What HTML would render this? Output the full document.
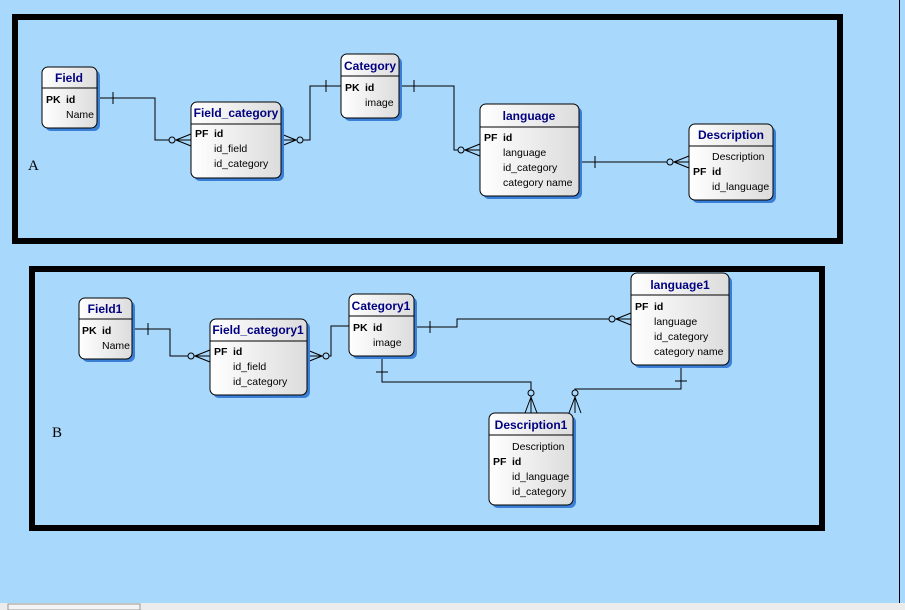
<!DOCTYPE html>
<html><head><meta charset="utf-8"><style>
html,body{margin:0;padding:0;background:#a8d8fc;}
svg{display:block;}
text{font-family:"Liberation Sans",Arial,sans-serif;font-size:10.5px;fill:#000;}
.t{font-size:12px;font-weight:bold;fill:#000080;text-anchor:middle;}
.k{font-weight:bold;}
</style></head><body>
<svg width="905" height="610" viewBox="0 0 905 610" xmlns="http://www.w3.org/2000/svg">
<defs>
<linearGradient id="g" x1="0" y1="0" x2="1" y2="0"><stop offset="0" stop-color="#ffffff"/><stop offset="1" stop-color="#dcdcdc"/></linearGradient>
</defs>
<rect width="905" height="610" fill="#a8d8fc"/>
<line x1="899.5" y1="0" x2="899.5" y2="603" stroke="#000" stroke-width="1"/>
<rect x="0" y="603" width="905" height="7" fill="#ececec"/>
<rect x="8" y="604" width="132" height="6" fill="#f4f4f4" stroke="#999" stroke-width="1"/>
<rect x="15" y="17" width="825" height="224" fill="none" stroke="#000" stroke-width="6"/>
<rect x="32" y="269" width="790" height="259" fill="none" stroke="#000" stroke-width="6"/>
<text x="28" y="170" style="font-family:'Liberation Serif',serif;font-size:15px">A</text>
<text x="52" y="437" style="font-family:'Liberation Serif',serif;font-size:15px">B</text>

<g fill="none" stroke="#000" stroke-width="1">
<polyline points="97,98 155,98 155,140 191,140"/>
<line x1="113" y1="92" x2="113" y2="104"/>
<circle cx="172" cy="140" r="3" fill="#a8d8fc"/>
<polyline points="176,140 191,134"/><polyline points="176,140 191,146"/>

<polyline points="281,140 310,140 310,86 341,86"/>
<polyline points="296,140 281,134"/><polyline points="296,140 281,146"/>
<circle cx="300" cy="140" r="3" fill="#a8d8fc"/>
<line x1="326" y1="80" x2="326" y2="92"/>

<polyline points="399,86 454,86 454,150 480,150"/>
<line x1="414" y1="80" x2="414" y2="92"/>
<circle cx="461" cy="150" r="3" fill="#a8d8fc"/>
<polyline points="465,150 480,144"/><polyline points="465,150 480,156"/>

<line x1="579" y1="162" x2="689" y2="162"/>
<line x1="595" y1="156" x2="595" y2="168"/>
<circle cx="670" cy="162" r="3" fill="#a8d8fc"/>
<polyline points="674,162 689,156"/><polyline points="674,162 689,168"/>

<polyline points="132,329 170,329 170,356 210,356"/>
<line x1="148" y1="323" x2="148" y2="335"/>
<circle cx="191" cy="356" r="3" fill="#a8d8fc"/>
<polyline points="195,356 210,350"/><polyline points="195,356 210,362"/>

<polyline points="307,356 331,356 331,326 349,326"/>
<polyline points="322,356 307,350"/><polyline points="322,356 307,362"/>
<circle cx="326" cy="356" r="3" fill="#a8d8fc"/>

<polyline points="414,327 457,327 457,319 631,319"/>
<line x1="430" y1="321" x2="430" y2="333"/>
<circle cx="612" cy="319" r="3" fill="#a8d8fc"/>
<polyline points="616,319 631,313"/><polyline points="616,319 631,325"/>

<polyline points="382,356 382,382 531,382 531,413"/>
<line x1="376" y1="372" x2="388" y2="372"/>
<circle cx="531" cy="393" r="3" fill="#a8d8fc"/>
<polyline points="531,397 525,413"/><polyline points="531,397 537,413"/>

<polyline points="681,365 681,389 575,389 575,413"/>
<line x1="675" y1="381" x2="687" y2="381"/>
<circle cx="575" cy="393" r="3" fill="#a8d8fc"/>
<polyline points="575,397 569,413"/><polyline points="575,397 581,413"/>
</g>

<g stroke="#000" stroke-width="1">
<rect x="45" y="70" width="55" height="61" rx="6" fill="#3a7fd5" stroke="none"/>
<rect x="42" y="67" width="55" height="61" rx="6" fill="url(#g)"/>
<line x1="42" y1="88" x2="97" y2="88"/>

<rect x="194" y="105" width="90" height="76" rx="6" fill="#3a7fd5" stroke="none"/>
<rect x="191" y="102" width="90" height="76" rx="6" fill="url(#g)"/>
<line x1="191" y1="124" x2="281" y2="124"/>

<rect x="344" y="57" width="58" height="64" rx="6" fill="#3a7fd5" stroke="none"/>
<rect x="341" y="54" width="58" height="64" rx="6" fill="url(#g)"/>
<line x1="341" y1="76" x2="399" y2="76"/>

<rect x="483" y="107" width="99" height="92" rx="6" fill="#3a7fd5" stroke="none"/>
<rect x="480" y="104" width="99" height="92" rx="6" fill="url(#g)"/>
<line x1="480" y1="127" x2="579" y2="127"/>

<rect x="692" y="127" width="84" height="76" rx="6" fill="#3a7fd5" stroke="none"/>
<rect x="689" y="124" width="84" height="76" rx="6" fill="url(#g)"/>
<line x1="689" y1="146" x2="773" y2="146"/>

<rect x="82" y="301" width="53" height="61" rx="6" fill="#3a7fd5" stroke="none"/>
<rect x="79" y="298" width="53" height="61" rx="6" fill="url(#g)"/>
<line x1="79" y1="319" x2="132" y2="319"/>

<rect x="213" y="322" width="97" height="76" rx="6" fill="#3a7fd5" stroke="none"/>
<rect x="210" y="319" width="97" height="76" rx="6" fill="url(#g)"/>
<line x1="210" y1="341" x2="307" y2="341"/>

<rect x="352" y="297" width="65" height="62" rx="6" fill="#3a7fd5" stroke="none"/>
<rect x="349" y="294" width="65" height="62" rx="6" fill="url(#g)"/>
<line x1="349" y1="316" x2="414" y2="316"/>

<rect x="634" y="276" width="98" height="92" rx="6" fill="#3a7fd5" stroke="none"/>
<rect x="631" y="273" width="98" height="92" rx="6" fill="url(#g)"/>
<line x1="631" y1="295" x2="729" y2="295"/>

<rect x="492" y="416" width="84" height="92" rx="6" fill="#3a7fd5" stroke="none"/>
<rect x="489" y="413" width="84" height="92" rx="6" fill="url(#g)"/>
<line x1="489" y1="435" x2="573" y2="435"/>
</g>

<text class="t" x="69" y="82">Field</text>
<text class="k" x="46" y="103">PK</text><text class="k" x="66" y="103">id</text>
<text x="66" y="118">Name</text>

<text class="t" x="236" y="117">Field_category</text>
<text class="k" x="195" y="137">PF</text><text class="k" x="214" y="137">id</text>
<text x="214" y="152">id_field</text><text x="214" y="167">id_category</text>

<text class="t" x="370" y="70">Category</text>
<text class="k" x="345" y="91">PK</text><text class="k" x="365" y="91">id</text>
<text x="365" y="106">image</text>

<text class="t" x="529" y="120">language</text>
<text class="k" x="484" y="141">PF</text><text class="k" x="503" y="141">id</text>
<text x="503" y="156">language</text><text x="503" y="171">id_category</text><text x="503" y="186">category name</text>

<text class="t" x="731" y="139">Description</text>
<text x="712" y="160">Description</text>
<text class="k" x="693" y="175">PF</text><text class="k" x="712" y="175">id</text>
<text x="712" y="190">id_language</text>

<text class="t" x="105" y="313">Field1</text>
<text class="k" x="82" y="334">PK</text><text class="k" x="102" y="334">id</text>
<text x="102" y="349">Name</text>

<text class="t" x="258" y="334">Field_category1</text>
<text class="k" x="214" y="355">PF</text><text class="k" x="233" y="355">id</text>
<text x="233" y="370">id_field</text><text x="233" y="385">id_category</text>

<text class="t" x="381" y="310">Category1</text>
<text class="k" x="353" y="331">PK</text><text class="k" x="373" y="331">id</text>
<text x="373" y="346">image</text>

<text class="t" x="680" y="289">language1</text>
<text class="k" x="635" y="310">PF</text><text class="k" x="654" y="310">id</text>
<text x="654" y="325">language</text><text x="654" y="340">id_category</text><text x="654" y="355">category name</text>

<text class="t" x="531" y="429">Description1</text>
<text x="512" y="450">Description</text>
<text class="k" x="493" y="465">PF</text><text class="k" x="512" y="465">id</text>
<text x="512" y="480">id_language</text><text x="512" y="495">id_category</text>
</svg>
</body></html>
